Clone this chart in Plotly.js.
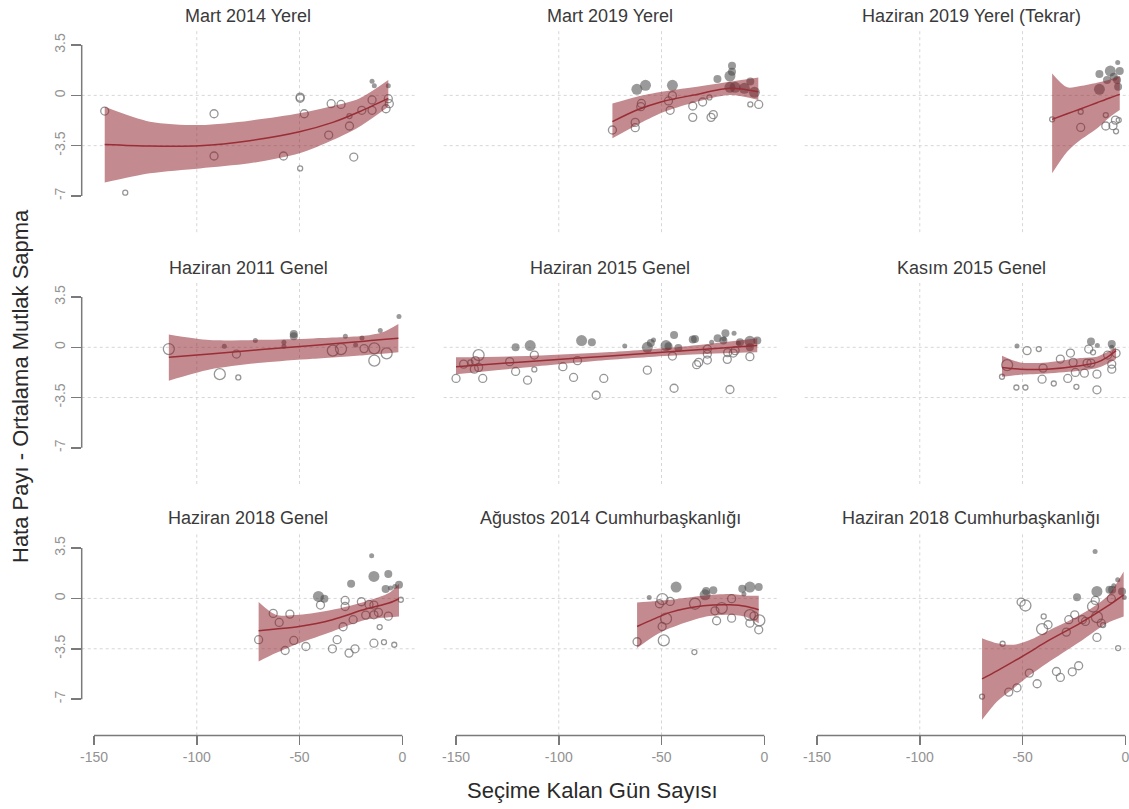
<!DOCTYPE html>
<html><head><meta charset="utf-8">
<script src="https://cdn.plot.ly/plotly-3.0.1.min.js"></script>
<style>html,body{margin:0;padding:0;background:#fff}#chart{width:1129px;height:809px}</style>
</head><body><div id="chart"></div><script>
// ---------- text ----------
const panelTitles = ["Mart 2014 Yerel","Mart 2019 Yerel","Haziran 2019 Yerel (Tekrar)",
  "Haziran 2011 Genel","Haziran 2015 Genel","Kasım 2015 Genel",
  "Haziran 2018 Genel","Ağustos 2014 Cumhurbaşkanlığı","Haziran 2018 Cumhurbaşkanlığı"];
const xAxisTitle = "Seçime Kalan Gün Sayısı";
const yAxisTitle = "Hata Payı - Ortalama Mutlak Sapma";
const xTicks = [-150,-100,-50,0];
const xTickText = ["-150","-100","-50","0"];
const yTicks = [3.5,0,-3.5,-7];
const yTickText = ["3.5","0","-3.5","-7"];
const gridX = [-100,-50];
const gridY = [0,-3.5];

// ---------- data (size: 1 small, 2 medium, 3 large; filled: 1/0) ----------
const mart2014_days = [-144.8,-134.8,-91.6,-91.6,-57.8,-49.7,-49.7,-49.7,-47.7,-35.8,-34.6,-29.8,-23.6,-25.7,-25.7,-19.7,-14.7,-14.7,-14.7,-13.6,-6.8,-6.8,-7.9,-6.3];
const mart2014_err = [-1.09,-6.77,-1.28,-4.22,-4.22,-0.12,-0.2,-5.08,-1.28,-2.76,-0.58,-0.63,-4.29,-2.13,-1.44,-1.04,-0.32,-1.04,0.99,0.67,0.67,-0.23,-0.93,-0.58];
const mart2014_size = [2,1,2,2,2,2,2,1,2,2,2,2,2,2,1,2,2,2,1,1,1,2,2,2];
const mart2014_filled = [0,0,0,0,0,0,0,0,0,0,0,0,0,0,0,0,0,0,1,1,1,0,0,0];
const mart2014_fitDays = [-144.8,-122.8,-98.5,-74.3,-50.0,-33.8,-20.9,-6.8];
const mart2014_fit = [-3.41,-3.52,-3.50,-3.15,-2.53,-1.88,-1.14,-0.21];
const mart2014_upper = [-0.79,-1.83,-2.06,-1.76,-1.25,-0.74,-0.21,1.07];
const mart2014_lower = [-6.07,-5.42,-5.08,-4.73,-4.03,-3.11,-2.18,-0.79];

const mart2019_days = [-73.9,-62.0,-57.8,-59.8,-60.1,-62.8,-62.8,-44.7,-44.7,-46.6,-45.8,-34.8,-34.8,-30.0,-26.7,-24.8,-25.9,-22.8,-15.7,-15.7,-16.7,-16.7,-14.2,-9.7,-6.8,-4.8,-6.8,-2.7];
const mart2019_err = [-2.41,0.42,0.70,-0.56,-0.79,-1.88,-2.25,0.70,-0.02,-0.39,-1.04,-0.74,-1.53,-0.46,-0.14,-1.34,-1.53,1.14,2.06,1.65,1.34,0.56,0.56,0.49,0.97,0.21,-0.63,-0.63];
const mart2019_size = [2,3,3,2,2,2,2,3,2,2,2,2,2,2,1,2,2,2,2,2,3,3,3,3,2,3,1,2];
const mart2019_filled = [0,1,1,0,0,0,0,1,0,0,0,0,0,0,0,0,0,1,1,1,1,1,1,1,1,1,0,0];
const mart2019_fitDays = [-73.9,-62.0,-49.9,-34.5,-16.7,-2.9];
const mart2019_fit = [-1.83,-1.02,-0.44,0.02,0.49,0.25];
const mart2019_upper = [-0.56,-0.09,0.25,0.56,0.95,1.25];
const mart2019_lower = [-2.99,-2.06,-1.21,-0.51,0.02,-0.32];

const haziran2019_days = [-35.6,-21.7,-21.7,-12.6,-12.6,-9.5,-9.5,-7.3,-8.9,-5.6,-2.7,-3.7,-4.0,-3.5,-6.0,-4.8,-3.2,-4.5];
const haziran2019_err = [-1.67,-1.14,-2.23,1.48,0.42,-1.37,-2.13,1.69,1.07,1.30,1.69,2.29,1.07,0.60,-2.11,-1.72,-1.72,-2.50];
const haziran2019_size = [1,1,2,2,3,1,2,3,2,2,2,1,2,2,2,2,1,1];
const haziran2019_filled = [0,0,0,1,1,0,0,1,1,1,1,1,1,1,0,0,0,0];
const haziran2019_fitDays = [-35.6,-28.3,-21.9,-13.8,-7.3,-2.7];
const haziran2019_fit = [-1.67,-1.28,-0.95,-0.51,-0.16,0.07];
const haziran2019_upper = [1.53,0.56,0.65,0.88,1.11,1.34];
const haziran2019_lower = [-5.42,-3.92,-3.11,-2.30,-1.48,-1.02];

const haziran2011_days = [-113.6,-86.6,-88.8,-80.7,-79.8,-71.5,-57.6,-57.6,-52.8,-52.8,-27.7,-33.8,-29.8,-22.7,-19.6,-18.6,-13.6,-13.6,-7.6,-10.7,-1.6];
const haziran2011_err = [-0.12,0.07,-1.87,-0.47,-2.10,0.47,0.35,0.07,0.93,0.77,0.77,-0.23,-0.12,0.16,0.65,-0.09,-0.07,-0.93,-0.42,1.17,2.15];
const haziran2011_size = [3,1,3,2,1,1,1,1,2,2,1,3,3,1,1,2,3,3,3,1,1];
const haziran2011_filled = [0,1,0,0,0,1,1,1,1,1,1,0,0,1,1,0,0,0,0,1,1];
const haziran2011_fitDays = [-113.6,-93.7,-68.6,-43.5,-18.5,-9.6,-1.9];
const haziran2011_fit = [-0.70,-0.46,-0.16,0.13,0.43,0.54,0.63];
const haziran2011_upper = [0.89,0.50,0.52,0.62,0.80,1.05,1.63];
const haziran2011_lower = [-2.33,-1.55,-1.08,-0.80,-0.55,-0.45,-0.35];

const haziran2015_days = [-150,-146.3,-143.0,-139.0,-140.6,-141.1,-139.0,-137.0,-123.9,-121.0,-121.0,-113.9,-111.9,-111.9,-115.2,-98.0,-92.8,-88.9,-83.9,-90.9,-81.8,-78.1,-67.9,-56.9,-56.9,-55.2,-53.9,-47.8,-46.6,-43.9,-41.8,-44.7,-43.9,-34.8,-33.7,-32.9,-31.9,-27.7,-27.7,-27.7,-25.6,-22.7,-19.9,-18.9,-14.7,-19.6,-18.0,-17.8,-16.7,-15.1,-14.2,-12.6,-11.8,-7.0,-3.4,-7.0,-7.0];
const haziran2015_err = [-2.17,-1.17,-1.05,-0.54,-0.93,-1.52,-1.40,-2.17,-1.00,-1.68,0,0.12,-0.54,-1.54,-2.29,-1.35,-2.10,0.47,0.35,-0.93,-3.34,-2.17,0.09,-1.59,0,0.30,0.51,0.12,0.07,0.86,-0.05,-0.61,-2.85,0.54,0.58,-1.21,-1.05,-0.89,-0.47,-0.12,0.35,0.63,0.47,0.98,0.98,0.58,-0.84,-0.37,-2.94,-0.40,-0.23,0.28,0.35,0.42,0.47,0,-0.65];
const haziran2015_size = [2,2,1,3,2,2,2,2,2,2,2,3,2,1,2,2,2,3,2,2,2,2,1,2,3,2,1,3,2,2,2,2,2,2,2,2,2,2,2,2,1,2,2,2,1,1,2,2,2,2,2,1,2,3,2,2,2];
const haziran2015_filled = [0,0,0,0,0,0,0,0,0,0,1,1,0,0,0,0,0,1,1,0,0,0,1,0,1,1,1,1,1,1,1,0,0,1,1,0,0,0,0,0,1,1,1,1,1,1,0,0,0,0,0,1,1,1,1,1,0];
const haziran2015_fitDays = [-150,-112.5,-75,-37.5,-3.4];
const haziran2015_fit = [-1.35,-0.97,-0.60,-0.22,0.12];
const haziran2015_upper = [-0.70,-0.59,-0.33,0.08,0.63];
const haziran2015_lower = [-1.87,-1.35,-0.87,-0.52,-0.35];

const kasim2015_days = [-52.7,-57.5,-60.0,-47.8,-42.1,-53.0,-48.6,-40.0,-40.5,-34.8,-31.6,-26.7,-25.4,-28.0,-24.3,-23.8,-19.9,-16.7,-17.8,-15.7,-18.6,-16.7,-13.6,-13.8,-13.8,-6.6,-6.6,-8.6,-4.5,-6.6,-6.6];
const kasim2015_err = [0.09,-1.24,-2.05,-0.23,-0.12,-2.80,-2.80,-1.45,-2.22,-2.52,-0.82,-0.40,-1.05,-2.17,-1.75,-2.75,-1.80,0.40,-0.12,-0.35,-1.10,-1.10,0.12,-1.87,-2.96,0.23,0,-0.54,-0.42,-1.17,-1.52];
const kasim2015_size = [1,3,1,2,1,1,1,2,2,1,2,2,2,2,2,1,2,2,2,1,2,2,1,2,2,2,1,2,2,2,2];
const kasim2015_filled = [1,0,0,0,0,0,0,0,0,0,0,0,0,0,0,0,0,1,0,0,0,0,1,0,0,1,1,0,0,0,0];
const kasim2015_fitDays = [-60.0,-51.1,-38.1,-21.9,-13.8,-8.9,-4.5];
const kasim2015_fit = [-1.40,-1.52,-1.52,-1.28,-1.05,-0.70,-0.23];
const kasim2015_upper = [-0.58,-1.05,-1.05,-0.75,-0.65,-0.35,0];
const kasim2015_lower = [-2.05,-1.91,-1.82,-1.63,-1.45,-1.17,-0.82];

const haziran2018g_days = [-69.9,-62.8,-59.9,-57.0,-54.7,-52.8,-46.9,-40.8,-37.9,-39.8,-34.0,-31.7,-28.8,-27.8,-27.8,-25.9,-23.0,-24.9,-23.9,-19.9,-17.8,-16.2,-13.8,-13.8,-11.6,-11.0,-13.8,-8.9,-3.9,-14.9,-13.8,-6.8,-8.1,-5.7,-3.6,-1.6,-6.8,-0.7];
const haziran2018g_err = [-2.87,-1.04,-1.67,-3.62,-1.09,-2.92,-3.34,0.14,-0.02,-0.46,-3.50,-2.87,-1.97,-0.14,-0.56,-3.80,-3.50,1.02,-1.48,-0.23,-1.16,-0.42,-0.46,-1.14,-0.97,-1.99,-3.11,-3.04,-3.22,2.97,1.53,1.69,0.65,0.72,0.83,0.95,-1.23,-0.09];
const haziran2018g_size = [2,2,2,2,2,2,2,3,2,2,2,2,2,2,2,2,2,2,2,2,2,2,2,2,2,1,2,1,1,1,3,2,2,1,1,2,2,1];
const haziran2018g_filled = [0,0,0,0,0,0,0,1,1,0,0,0,0,0,0,0,0,1,0,0,0,0,0,0,0,0,0,0,0,1,1,1,1,1,1,1,0,0];
const haziran2018g_fitDays = [-69.9,-61.5,-50.2,-34.0,-17.8,-6.5,-1.6];
const haziran2018g_fit = [-2.25,-2.13,-1.95,-1.48,-0.74,-0.32,-0.02];
const haziran2018g_upper = [-0.25,-1.14,-1.14,-0.79,-0.21,0.37,1.02];
const haziran2018g_lower = [-4.38,-3.80,-3.11,-2.29,-1.48,-1.30,-1.25];

const agustos2014_days = [-61.9,-56.0,-49.6,-51.0,-45.8,-47.8,-49.7,-48.9,-42.9,-33.7,-34.0,-28.3,-28.8,-24.8,-24.0,-23.2,-20.7,-15.9,-15.9,-10.7,-9.9,-7.0,-2.7,-7.0,-5.0,-7.0,-2.4,-2.7];
const agustos2014_err = [-3.01,0.07,-0.05,-0.37,-0.21,-1.41,-1.95,-2.92,0.79,-0.37,-3.73,0.51,0.25,0.56,-0.86,-1.55,-0.67,-0.02,-1.37,0.67,0.30,0.79,0.79,-1.16,-1.21,-1.72,-1.53,-2.18];
const agustos2014_size = [2,1,3,2,2,3,2,3,3,3,1,2,3,2,2,2,3,2,2,2,1,3,2,3,2,2,3,2];
const agustos2014_filled = [0,1,0,0,0,0,0,0,1,0,0,1,1,1,0,0,0,0,0,1,1,1,1,0,0,0,0,0];
const agustos2014_fitDays = [-61.9,-53.9,-45.8,-29.6,-16.7,-8.6,-2.7];
const agustos2014_fit = [-1.95,-1.44,-0.97,-0.51,-0.44,-0.56,-0.79];
const agustos2014_upper = [-0.28,-0.20,-0.09,0.19,0.30,0.19,0.19];
const agustos2014_lower = [-3.45,-2.64,-2.06,-1.30,-1.14,-1.30,-1.72];

const haziran2018c_days = [-69.7,-59.7,-56.7,-52.7,-50.7,-48.6,-46.7,-42.9,-39.7,-40.5,-37.6,-33.5,-31.6,-28.7,-27.5,-24.6,-25.8,-22.7,-23.5,-20.9,-19.4,-15.7,-14.6,-13.8,-13.8,-11.7,-10.8,-14.7,-13.8,-7.7,-6.4,-5.6,-3.7,-6.8,-3.5,-1.6,-0.5];
const haziran2018c_err = [-6.82,-3.15,-6.51,-6.21,-0.25,-0.49,-5.19,-5.93,-1.25,-2.13,-1.83,-5.08,-5.49,-2.34,-1.48,-1.14,-5.10,-4.68,0.09,-1.48,-1.60,-0.56,-0.14,-1.30,-2.71,-1.72,-1.85,3.27,0.49,0.60,0.60,0.88,1.30,-0.02,-3.45,0.49,0.07];
const haziran2018c_size = [1,1,2,2,2,3,2,2,1,3,2,2,2,2,2,2,2,2,2,2,2,3,2,3,2,2,1,1,3,2,2,1,1,2,1,2,1];
const haziran2018c_filled = [0,0,0,0,0,0,0,0,0,0,0,0,0,0,0,0,0,0,1,0,0,0,0,0,0,0,0,1,1,1,1,1,1,0,0,1,1];
const haziran2018c_fitDays = [-69.7,-62.4,-54.3,-46.2,-38.1,-21.9,-8.9,-0.8];
const haziran2018c_fit = [-5.59,-5.03,-4.38,-3.69,-2.99,-1.72,-0.56,0.25];
const haziran2018c_upper = [-2.76,-3.11,-3.22,-2.87,-2.29,-1.14,0.14,1.88];
const haziran2018c_lower = [-8.44,-7.16,-6.24,-5.31,-4.50,-2.99,-1.72,-1.25];

const panels = [
  {days:mart2014_days, err:mart2014_err, size:mart2014_size, filled:mart2014_filled, fx:mart2014_fitDays, fy:mart2014_fit, up:mart2014_upper, lo:mart2014_lower},
  {days:mart2019_days, err:mart2019_err, size:mart2019_size, filled:mart2019_filled, fx:mart2019_fitDays, fy:mart2019_fit, up:mart2019_upper, lo:mart2019_lower},
  {days:haziran2019_days, err:haziran2019_err, size:haziran2019_size, filled:haziran2019_filled, fx:haziran2019_fitDays, fy:haziran2019_fit, up:haziran2019_upper, lo:haziran2019_lower},
  {days:haziran2011_days, err:haziran2011_err, size:haziran2011_size, filled:haziran2011_filled, fx:haziran2011_fitDays, fy:haziran2011_fit, up:haziran2011_upper, lo:haziran2011_lower},
  {days:haziran2015_days, err:haziran2015_err, size:haziran2015_size, filled:haziran2015_filled, fx:haziran2015_fitDays, fy:haziran2015_fit, up:haziran2015_upper, lo:haziran2015_lower},
  {days:kasim2015_days, err:kasim2015_err, size:kasim2015_size, filled:kasim2015_filled, fx:kasim2015_fitDays, fy:kasim2015_fit, up:kasim2015_upper, lo:kasim2015_lower},
  {days:haziran2018g_days, err:haziran2018g_err, size:haziran2018g_size, filled:haziran2018g_filled, fx:haziran2018g_fitDays, fy:haziran2018g_fit, up:haziran2018g_upper, lo:haziran2018g_lower},
  {days:agustos2014_days, err:agustos2014_err, size:agustos2014_size, filled:agustos2014_filled, fx:agustos2014_fitDays, fy:agustos2014_fit, up:agustos2014_upper, lo:agustos2014_lower},
  {days:haziran2018c_days, err:haziran2018c_err, size:haziran2018c_size, filled:haziran2018c_filled, fx:haziran2018c_fitDays, fy:haziran2018c_fit, up:haziran2018c_upper, lo:haziran2018c_lower}
];

// ---------- layout settings ----------
const W = 1129, H = 809;
const colDomains = [[81.7/W, 414.6/W],[443.7/W, 776.6/W],[804.7/W, 1]];
const xRanges = [[-156,6],[-156,6],[-156,1.8]];
const rowDomains = [[1-232.2/H, 1-30.4/H],[1-484/H, 1-282.4/H],[1-735.4/H, 1-533.4/H]];
const yRange = [-9.52, 4.52];
const titleCx = [248/W, 610/W, 971/W];
const titleCy = [1-16/H, 1-268/H, 1-518/H];
const sizePx = {1:5, 2:8, 3:11};
const FONT = "Liberation Sans, Arial, Helvetica, sans-serif";
const axisColor = "#7a7a7a";

const traces = [];
const shapes = [];
const annotations = [];
const layout = {
  width: W, height: H, margin:{l:0,r:0,t:0,b:0},
  paper_bgcolor:"#fff", plot_bgcolor:"rgba(0,0,0,0)",
  showlegend:false, font:{family:FONT, color:"#333"},
  hovermode:false
};

panels.forEach((p, i) => {
  const c = i % 3, r = Math.floor(i / 3);
  const n = i + 1;
  const xa = "x" + n, ya = "y" + n;
  const sel = (f) => p.days.map((_, k) => k).filter(k => p.filled[k] === f);
  const openIdx = sel(0), fillIdx = sel(1);
  traces.push({
    type:"scatter", mode:"markers", xaxis:xa, yaxis:ya, cliponaxis:false,
    x: openIdx.map(k => p.days[k]), y: openIdx.map(k => p.err[k]),
    marker:{symbol:"circle-open", size: openIdx.map(k => sizePx[p.size[k]]), color:"#6a6a6a", line:{width:1.3, color:"#6a6a6a"}}
  });
  traces.push({
    type:"scatter", mode:"markers", xaxis:xa, yaxis:ya, cliponaxis:false,
    x: fillIdx.map(k => p.days[k]), y: fillIdx.map(k => p.err[k]),
    marker:{symbol:"circle", size: fillIdx.map(k => sizePx[p.size[k]]), color:"rgba(70,70,70,0.78)", line:{width:0}}
  });
  traces.push({
    type:"scatter", mode:"lines", xaxis:xa, yaxis:ya, x:p.fx, y:p.lo,
    line:{width:0, shape:"spline", smoothing:0.8, color:"rgba(0,0,0,0)"}
  });
  traces.push({
    type:"scatter", mode:"lines", xaxis:xa, yaxis:ya, x:p.fx, y:p.up, fill:"tonexty",
    fillcolor:"rgba(140,30,40,0.52)",
    line:{width:0, shape:"spline", smoothing:0.8, color:"rgba(0,0,0,0)"}
  });
  traces.push({
    type:"scatter", mode:"lines", xaxis:xa, yaxis:ya, x:p.fx, y:p.fy,
    line:{width:1.5, shape:"spline", smoothing:0.8, color:"#9a2d36"}
  });

  const bottom = (r === 2), left = (c === 0);
  layout["xaxis" + n] = {
    domain: colDomains[c], range: xRanges[c], anchor: ya,
    showgrid:false, zeroline:false, showline:false,
    tickmode:"array", tickvals:xTicks, ticktext:xTickText,
    showticklabels: bottom, ticks: bottom ? "outside" : "",
    ticklen:9, tickwidth:1.5, tickcolor:axisColor, ticklabeloverflow:"allow",
    tickfont:{size:14, color:"#929292", family:FONT}, fixedrange:true
  };
  layout["yaxis" + n] = {
    domain: rowDomains[r], range: yRange, anchor: xa,
    showgrid:false, zeroline:false, showline:false,
    tickmode:"array", tickvals:yTicks, ticktext:yTickText,
    showticklabels: left, ticks: left ? "outside" : "",
    ticklen:10, tickwidth:1.5, tickcolor:axisColor, tickangle:-90,
    tickfont:{size:14, color:"#929292", family:FONT}, fixedrange:true
  };

  gridX.forEach(g => shapes.push({type:"line", layer:"below", xref:xa, yref:ya + " domain", x0:g, x1:g, y0:0, y1:1,
    line:{color:"#d6d6d6", width:1, dash:"dot"}}));
  gridY.forEach(g => shapes.push({type:"line", layer:"below", xref:xa + " domain", yref:ya, x0:0, x1:1, y0:g, y1:g,
    line:{color:"#d6d6d6", width:1, dash:"dot"}}));
  if (left) shapes.push({type:"line", xref:xa + " domain", yref:ya, x0:0, x1:0,
    y0:yTicks[yTicks.length-1], y1:yTicks[0], line:{color:axisColor, width:1.5}});
  if (bottom) shapes.push({type:"line", xref:xa, yref:ya + " domain", x0:xTicks[0], x1:xTicks[xTicks.length-1],
    y0:0, y1:0, line:{color:axisColor, width:1.5}});

  annotations.push({text:panelTitles[i], xref:"paper", yref:"paper", x:titleCx[c], y:titleCy[r],
    xanchor:"center", yanchor:"middle", showarrow:false, font:{size:18, color:"#3a3a3a", family:FONT}});
});

annotations.push({text:xAxisTitle, xref:"paper", yref:"paper", x:592.5/W, y:1-790/H,
  xanchor:"center", yanchor:"middle", showarrow:false, font:{size:22, color:"#2a2a2a", family:FONT}});
annotations.push({text:yAxisTitle, xref:"paper", yref:"paper", x:20/W, y:1-386/H, textangle:-90,
  xanchor:"center", yanchor:"middle", showarrow:false, font:{size:22, color:"#2a2a2a", family:FONT}});

layout.shapes = shapes;
layout.annotations = annotations;

Plotly.newPlot("chart", traces, layout, {staticPlot:true, displayModeBar:false});
</script></body></html>
